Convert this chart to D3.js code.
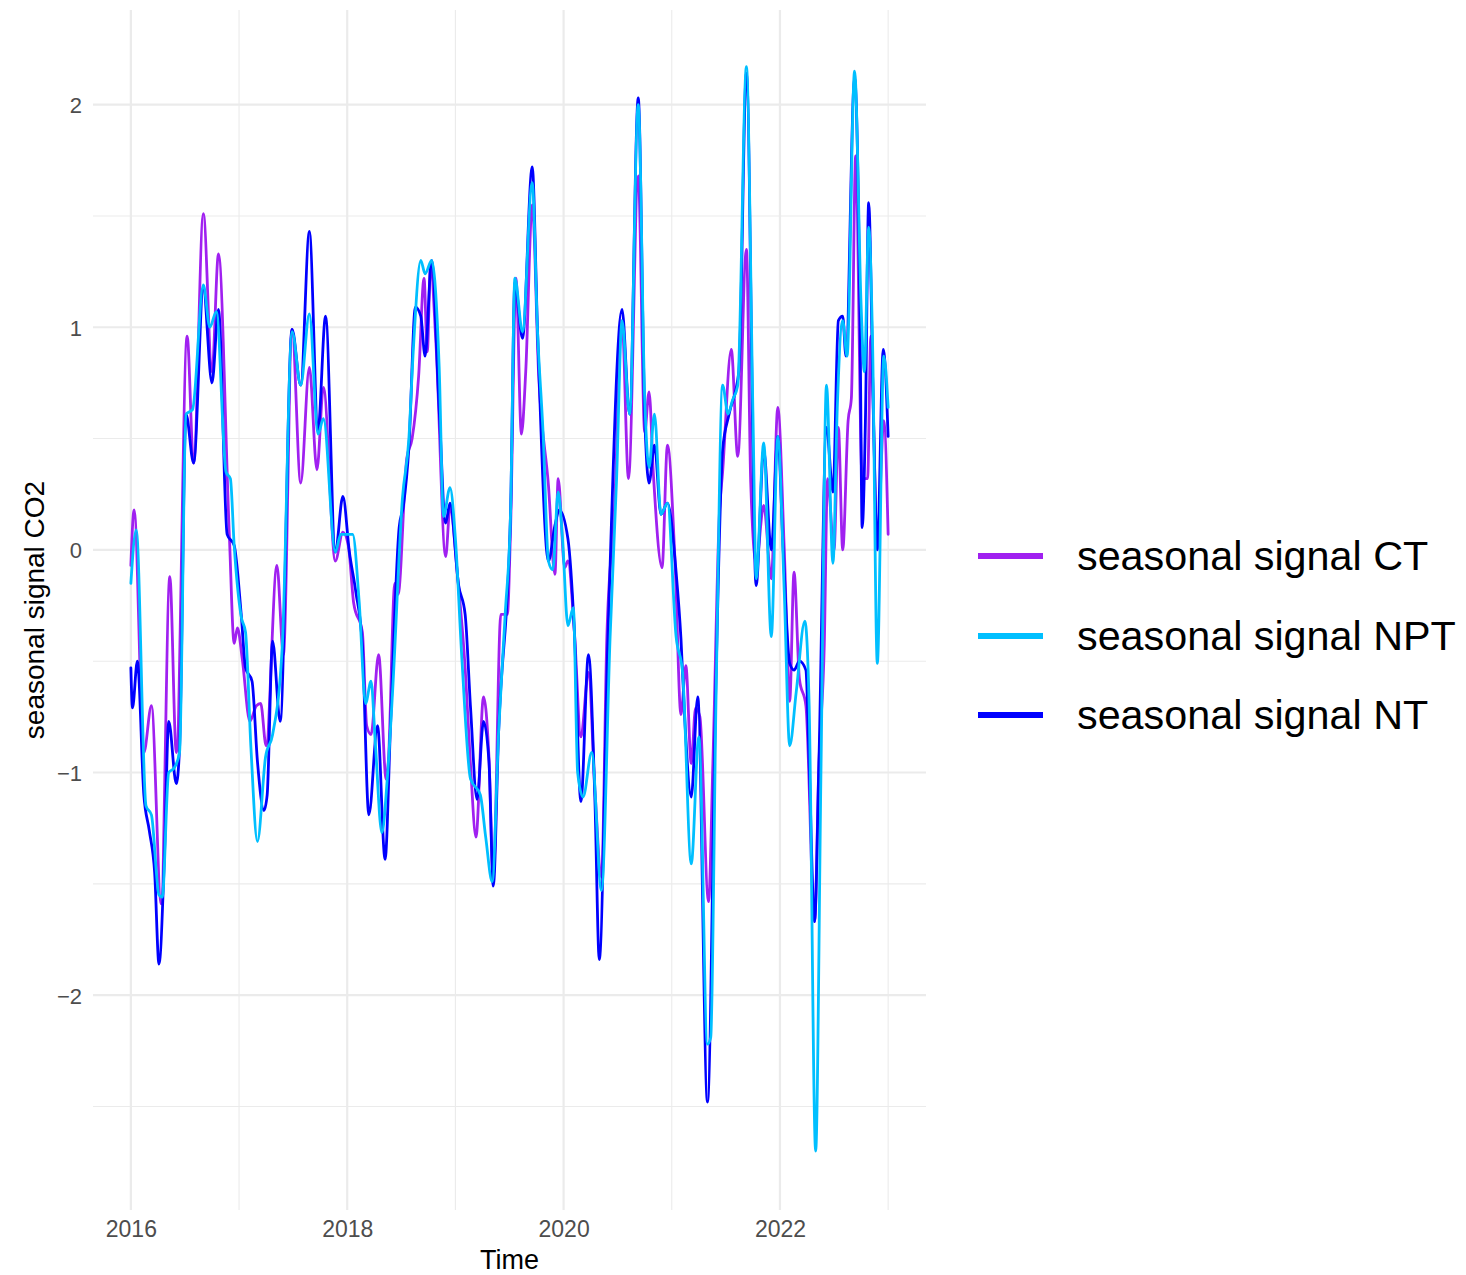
<!DOCTYPE html>
<html>
<head>
<meta charset="utf-8">
<script src="https://cdn.jsdelivr.net/npm/d3@7"></script>
<style>
  html, body { margin: 0; padding: 0; background: #ffffff; }
  svg { display: block; font-family: "Liberation Sans", Arial, sans-serif; }
</style>
</head>
<body>
<svg id="chart" width="1466" height="1275"></svg>
<script>
// Decimal-year / value pairs for each seasonal CO2 signal
const seriesCT = [
  [2016.00,-0.07],[2016.03,0.18],[2016.12,-0.91],[2016.19,-0.70],[2016.28,-1.59],[2016.36,-0.12],
  [2016.42,-0.91],[2016.52,0.96],[2016.58,0.39],[2016.67,1.51],[2016.75,0.80],[2016.81,1.33],
  [2016.91,0.07],[2016.955,-0.42],[2016.985,-0.35],[2017.03,-0.49],[2017.10,-0.77],[2017.16,-0.70],
  [2017.20,-0.69],[2017.25,-0.88],[2017.35,-0.07],[2017.41,-0.47],[2017.49,0.99],[2017.57,0.30],
  [2017.65,0.82],[2017.72,0.36],[2017.78,0.73],[2017.89,-0.05],[2017.96,0.08],[2018.01,0.02],
  [2018.06,-0.24],[2018.14,-0.37],[2018.18,-0.79],[2018.22,-0.83],[2018.29,-0.47],[2018.36,-1.03],
  [2018.38,-0.95],[2018.44,-0.15],[2018.47,-0.20],[2018.55,0.41],[2018.60,0.50],[2018.66,0.78],
  [2018.71,1.22],[2018.74,0.89],[2018.77,1.28],[2018.82,0.93],[2018.91,-0.03],[2018.95,0.19],
  [2019.02,-0.12],[2019.09,-0.53],[2019.14,-0.97],[2019.19,-1.29],[2019.26,-0.66],[2019.31,-0.93],
  [2019.35,-1.47],[2019.42,-0.29],[2019.48,-0.29],[2019.51,0.10],[2019.56,1.22],[2019.61,0.52],
  [2019.65,0.80],[2019.71,1.55],[2019.77,0.78],[2019.86,0.29],[2019.92,-0.11],[2019.95,0.32],
  [2020.01,-0.08],[2020.04,-0.05],[2020.10,-0.37],[2020.16,-0.84],[2020.23,-0.55],[2020.29,-1.08],
  [2020.35,-1.47],[2020.40,-0.39],[2020.47,0.18],[2020.54,1.03],[2020.60,0.32],[2020.69,1.68],
  [2020.75,0.53],[2020.79,0.71],[2020.83,0.34],[2020.91,-0.08],[2020.96,0.47],[2021.03,-0.05],
  [2021.085,-0.74],[2021.13,-0.52],[2021.18,-0.96],[2021.22,-0.71],[2021.26,-0.75],[2021.34,-1.58],
  [2021.38,-0.96],[2021.44,0.16],[2021.47,0.35],[2021.55,0.90],[2021.61,0.42],[2021.69,1.35],
  [2021.73,0.30],[2021.78,-0.06],[2021.85,0.20],[2021.92,-0.13],[2021.98,0.64],[2022.04,0.00],
  [2022.09,-0.68],[2022.13,-0.10],[2022.18,-0.58],[2022.24,-0.70],[2022.32,-1.67],[2022.36,-0.96],
  [2022.41,-0.42],[2022.44,0.32],[2022.50,0.00],[2022.54,0.55],[2022.58,0.00],[2022.63,0.58],
  [2022.66,0.68],[2022.70,1.77],[2022.76,0.32],[2022.81,0.32],[2022.84,0.96],[2022.90,0.00],
  [2022.96,0.58],[2023.00,0.07]
];

const seriesNPT = [
  [2016.00,-0.15],[2016.05,0.09],[2016.14,-1.15],[2016.19,-1.19],[2016.26,-1.55],[2016.29,-1.56],
  [2016.35,-1.00],[2016.40,-0.98],[2016.45,-0.91],[2016.51,0.61],[2016.57,0.63],[2016.67,1.19],
  [2016.73,1.00],[2016.79,1.07],[2016.88,0.35],[2016.92,0.32],[2016.955,0.02],[2017.02,-0.30],
  [2017.06,-0.37],[2017.11,-0.89],[2017.17,-1.31],[2017.245,-0.93],[2017.31,-0.83],[2017.40,-0.43],
  [2017.49,0.98],[2017.57,0.74],[2017.65,1.06],[2017.73,0.52],[2017.78,0.59],[2017.89,-0.01],
  [2017.94,0.07],[2018.05,0.07],[2018.11,-0.23],[2018.17,-0.69],[2018.22,-0.59],[2018.26,-0.87],
  [2018.32,-1.27],[2018.37,-1.03],[2018.42,-0.63],[2018.51,0.23],[2018.57,0.50],[2018.61,0.89],
  [2018.68,1.30],[2018.72,1.24],[2018.78,1.30],[2018.85,0.82],[2018.89,0.15],[2018.95,0.28],
  [2019.00,0.05],[2019.06,-0.49],[2019.14,-1.03],[2019.23,-1.10],[2019.28,-1.29],[2019.34,-1.49],
  [2019.40,-0.81],[2019.46,-0.29],[2019.51,0.17],[2019.55,1.22],[2019.62,0.98],[2019.71,1.65],
  [2019.76,0.97],[2019.81,0.53],[2019.86,-0.05],[2019.90,-0.09],[2019.95,0.26],[2019.99,0.05],
  [2020.04,-0.34],[2020.09,-0.26],[2020.13,-1.00],[2020.18,-1.11],[2020.26,-0.91],[2020.35,-1.53],
  [2020.43,-0.39],[2020.49,0.32],[2020.54,1.03],[2020.61,0.61],[2020.69,2.00],[2020.75,0.68],
  [2020.79,0.37],[2020.84,0.61],[2020.90,0.16],[2020.96,0.21],[2021.04,-0.39],[2021.10,-0.55],
  [2021.18,-1.41],[2021.25,-0.84],[2021.33,-2.22],[2021.36,-2.19],[2021.41,-0.64],[2021.47,0.74],
  [2021.52,0.61],[2021.56,0.67],[2021.61,0.74],[2021.69,2.17],[2021.75,0.62],[2021.78,-0.13],
  [2021.85,0.48],[2021.92,-0.39],[2021.98,0.51],[2022.04,-0.19],[2022.09,-0.88],[2022.15,-0.64],
  [2022.23,-0.32],[2022.27,-0.70],[2022.33,-2.70],[2022.38,-0.96],[2022.43,0.74],[2022.49,-0.06],
  [2022.53,0.64],[2022.58,1.03],[2022.62,0.87],[2022.69,2.15],[2022.75,1.10],[2022.78,0.80],
  [2022.82,1.45],[2022.855,0.96],[2022.90,-0.51],[2022.96,0.87],[2023.00,0.64]
];

const seriesNT = [
  [2016.00,-0.53],[2016.015,-0.71],[2016.06,-0.50],[2016.12,-1.10],[2016.17,-1.26],[2016.22,-1.45],
  [2016.26,-1.86],[2016.31,-1.38],[2016.35,-0.77],[2016.42,-1.05],[2016.45,-0.89],[2016.51,0.61],
  [2016.58,0.39],[2016.67,1.17],[2016.75,0.75],[2016.81,1.08],[2016.89,0.07],[2016.955,0.02],
  [2017.02,-0.29],[2017.06,-0.53],[2017.12,-0.59],[2017.17,-0.95],[2017.23,-1.17],[2017.26,-1.10],
  [2017.31,-0.41],[2017.38,-0.77],[2017.49,0.99],[2017.57,0.74],[2017.65,1.43],[2017.73,0.54],
  [2017.80,1.05],[2017.89,-0.01],[2017.96,0.24],[2018.02,-0.01],[2018.08,-0.19],[2018.14,-0.43],
  [2018.20,-1.19],[2018.28,-0.79],[2018.35,-1.39],[2018.40,-0.79],[2018.48,0.10],[2018.52,0.20],
  [2018.57,0.46],[2018.63,1.09],[2018.68,1.05],[2018.72,0.87],[2018.78,1.30],[2018.85,0.63],
  [2018.91,0.12],[2018.95,0.21],[2019.03,-0.16],[2019.09,-0.29],[2019.14,-0.71],[2019.20,-1.12],
  [2019.26,-0.77],[2019.31,-0.95],[2019.35,-1.51],[2019.40,-0.81],[2019.51,0.17],[2019.55,1.20],
  [2019.62,0.95],[2019.71,1.72],[2019.76,0.97],[2019.86,-0.05],[2019.92,0.11],[2019.96,0.18],
  [2020.04,0.05],[2020.10,-0.37],[2020.16,-1.13],[2020.23,-0.47],[2020.29,-1.13],[2020.33,-1.84],
  [2020.41,-0.39],[2020.54,1.08],[2020.61,0.61],[2020.69,2.03],[2020.75,0.60],[2020.79,0.30],
  [2020.84,0.47],[2020.90,0.16],[2020.96,0.21],[2021.04,-0.10],[2021.085,-0.40],[2021.12,-0.76],
  [2021.18,-1.11],[2021.24,-0.66],[2021.33,-2.48],[2021.41,-0.55],[2021.47,0.45],[2021.53,0.61],
  [2021.62,0.80],[2021.69,2.14],[2021.78,-0.16],[2021.85,0.45],[2021.92,0.00],[2021.98,0.51],
  [2022.03,0.00],[2022.09,-0.51],[2022.13,-0.54],[2022.18,-0.50],[2022.24,-0.54],[2022.27,-0.96],
  [2022.32,-1.67],[2022.36,-0.96],[2022.43,0.55],[2022.49,0.26],[2022.54,1.03],[2022.58,1.05],
  [2022.61,0.87],[2022.69,2.12],[2022.74,1.03],[2022.76,0.10],[2022.79,0.58],[2022.82,1.56],
  [2022.865,0.58],[2022.90,0.00],[2022.955,0.90],[2023.00,0.51]
];

const seriesNames = ["seasonal signal CT", "seasonal signal NPT", "seasonal signal NT"];
const seriesColors = ["#A020F0", "#00BFFF", "#0000FF"];

const xMajorTicks = [2016, 2018, 2020, 2022];
const xMinorTicks = [2017, 2019, 2021, 2023];
const yMajorTicks = [-2, -1, 0, 1, 2];
const yMinorTicks = [-2.5, -1.5, -0.5, 0.5, 1.5];

// Panel geometry
const panel = { left: 93, right: 926, top: 10, bottom: 1210 };

const svg = d3.select("#chart");

const x = d3.scaleLinear().domain([2015.65, 2023.35]).range([panel.left, panel.right]);
const y = d3.scaleLinear().domain([-2.965, 2.425]).range([panel.bottom, panel.top]);

const grid = svg.append("g").attr("class", "grid");
const gridColor = "#ebebeb";

// minor grid
grid.selectAll(".ymin").data(yMinorTicks).join("line")
  .attr("x1", panel.left).attr("x2", panel.right)
  .attr("y1", d => y(d)).attr("y2", d => y(d))
  .attr("stroke", gridColor).attr("stroke-width", 1.1);
grid.selectAll(".xmin").data(xMinorTicks).join("line")
  .attr("y1", panel.top).attr("y2", panel.bottom)
  .attr("x1", d => x(d)).attr("x2", d => x(d))
  .attr("stroke", gridColor).attr("stroke-width", 1.1);

// major grid
grid.selectAll(".ymaj").data(yMajorTicks).join("line")
  .attr("x1", panel.left).attr("x2", panel.right)
  .attr("y1", d => y(d)).attr("y2", d => y(d))
  .attr("stroke", gridColor).attr("stroke-width", 2.2);
grid.selectAll(".xmaj").data(xMajorTicks).join("line")
  .attr("y1", panel.top).attr("y2", panel.bottom)
  .attr("x1", d => x(d)).attr("x2", d => x(d))
  .attr("stroke", gridColor).attr("stroke-width", 2.2);

// axes (labels only, no domain lines or tick marks)
const yAxis = d3.axisLeft(y).tickValues(yMajorTicks).tickSize(0).tickPadding(0)
  .tickFormat(d => d < 0 ? "\u2212" + Math.abs(d) : String(d));
const gy = svg.append("g").attr("transform", `translate(${panel.left - 11},0)`).call(yAxis);
gy.select(".domain").remove();
gy.selectAll("text").attr("fill", "#4d4d4d").attr("font-size", 22)
  .attr("font-family", "Liberation Sans, Arial, sans-serif").attr("dy", "0.36em");

const xAxis = d3.axisBottom(x).tickValues(xMajorTicks).tickSize(0).tickPadding(0)
  .tickFormat(d3.format("d"));
const gx = svg.append("g").attr("transform", `translate(0,${panel.bottom + 11})`).call(xAxis);
gx.select(".domain").remove();
gx.selectAll("text").attr("fill", "#4d4d4d").attr("font-size", 23)
  .attr("font-family", "Liberation Sans, Arial, sans-serif").attr("dy", "0.71em");

// axis titles
svg.append("text")
  .attr("x", (panel.left + panel.right) / 2).attr("y", 1269)
  .attr("text-anchor", "middle").attr("font-size", 27).attr("fill", "#000")
  .text("Time");
svg.append("text")
  .attr("transform", `translate(44,${(panel.top + panel.bottom) / 2}) rotate(-90)`)
  .attr("text-anchor", "middle").attr("font-size", 28).attr("fill", "#000")
  .text("seasonal signal CO2");

// series lines
const line = d3.line().x(d => x(d[0])).y(d => y(d[1])).curve(d3.curveMonotoneX);
const drawOrder = [
  { data: seriesCT, color: seriesColors[0] },
  { data: seriesNT, color: seriesColors[2] },
  { data: seriesNPT, color: seriesColors[1] }
];
svg.append("g").selectAll("path").data(drawOrder).join("path")
  .attr("d", d => line(d.data))
  .attr("fill", "none")
  .attr("stroke", d => d.color)
  .attr("stroke-width", 2.8)
  .attr("stroke-linejoin", "round")
  .attr("stroke-linecap", "round");

// legend
const legendY = [556, 636, 715];
const legend = svg.append("g");
const items = legend.selectAll("g").data(seriesNames).join("g")
  .attr("transform", (d, i) => `translate(0,${legendY[i]})`);
items.append("line")
  .attr("x1", 978).attr("x2", 1043).attr("y1", 0).attr("y2", 0)
  .attr("stroke", (d, i) => seriesColors[i]).attr("stroke-width", 6);
items.append("text")
  .attr("x", 1077).attr("y", 0).attr("dy", "0.35em")
  .attr("font-size", 41.3).attr("fill", "#000")
  .text(d => d);
</script>
</body>
</html>
